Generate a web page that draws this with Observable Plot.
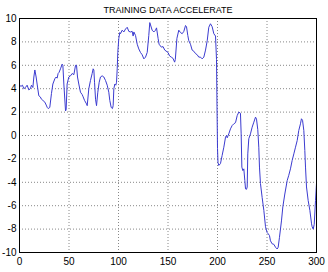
<!DOCTYPE html>
<html>
<head>
<meta charset="utf-8">
<script src="https://cdn.jsdelivr.net/npm/d3@7"></script>
<script src="https://cdn.jsdelivr.net/npm/@observablehq/plot@0.6"></script>
<style>
  html, body { margin: 0; padding: 0; background: #fff; }
</style>
</head>
<body>
<div id="chart"></div>
<script>
const title = "TRAINING DATA ACCELERATE";
const xTicks = [0, 50, 100, 150, 200, 250, 300];
const yTicks = [-10, -8, -6, -4, -2, 0, 2, 4, 6, 8, 10];

const xs = [
  0, 1.5, 3, 4.4, 6, 7.7, 9.4, 11, 12.1, 13.5, 14.5, 15.5, 16.8, 17.8, 19.5, 21, 22.2, 23.6, 25.6, 27,
  28, 29, 30.6, 32.3, 33.7, 35.7, 37, 38, 39, 40, 41.4, 43.1, 43.8, 44.8, 46.5, 47.1, 48.1, 49.8, 51.5, 53.2,
  54.9, 56.6, 57.6, 58.6, 59.9, 61.6, 63.3, 64.3, 65.7, 67.7, 68.4, 70, 71.7, 73.4, 74.4, 75.1, 75.8, 76.8, 77.8, 79.1,
  80.5, 81.8, 83.5, 85.2, 86.9, 88.6, 90.2, 91.2, 92.6, 93.9, 94.6, 95.3, 96.3, 97.3, 98, 98.7, 99.3, 100.3, 101.3, 102,
  103.7, 105.4, 107.1, 108.8, 110.4, 112.1, 113.8, 114.8, 115.5, 117.2, 118.9, 120.5, 122.2, 123.9, 125.6, 127.3, 129, 130.6, 131.6, 134,
  135.7, 137.4, 138.4, 140, 141, 143.3, 145, 146.7, 150, 151.6, 153.3, 155, 156.7, 157.4, 159, 160.9, 162.6, 164.3, 166, 167.7,
  168.7, 170, 171, 172.7, 174.4, 176.1, 177.8, 179.5, 181.1, 182.8, 184.5, 186.2, 187.9, 189.6, 191.2, 192.9, 194.6, 196.3, 198, 199,
  199.5, 200, 200.5, 201.3, 203, 204.7, 206.4, 208.1, 209.1, 209.8, 211.4, 213.1, 214.8, 216.5, 218.2, 219.9, 221.5, 223.2, 223.9, 224.6,
  225.6, 226.6, 227.6, 228.3, 229.3, 230, 230.6, 231.6, 233.3, 235, 236.7, 238.4, 239.4, 240.7, 241.7, 242.4, 243.4, 245.1, 246.8, 248.5,
  250.2, 251.2, 252.5, 253.5, 255.2, 256.9, 258.6, 260.3, 261.3, 262.6, 264.6, 266, 268, 270.4, 272, 273.7, 275.4, 277.1, 278.8, 280.5,
  282.1, 283.8, 284.8, 285.9, 287.2, 288.2, 288.9, 289.9, 291.6, 293.3, 295, 295.6, 296.7, 297.7, 299, 300
];
const ys = [
  4.3, 4.2, 4.3, 4.0, 4.1, 4.3, 3.9, 4.0, 4.3, 4.1, 5.0, 5.6, 5.0, 4.4, 3.4, 3.3, 3.1, 3.0, 2.85, 2.6,
  2.4, 2.3, 2.4, 3.6, 4.4, 4.85, 5.0, 4.9, 5.3, 5.4, 5.7, 6.1, 6.0, 4.4, 2.1, 2.2, 4.4, 5.0, 5.1, 5.3,
  5.2, 6.0, 6.0, 5.0, 4.4, 3.7, 3.5, 3.3, 3.0, 2.7, 2.55, 4.0, 4.7, 5.3, 5.7, 5.6, 4.55, 3.1, 2.55, 3.7,
  4.55, 5.0, 5.1, 5.0, 4.7, 4.3, 3.7, 3.0, 2.4, 2.3, 2.55, 4.0, 4.4, 4.3, 4.55, 5.7, 7.1, 8.3, 8.8, 8.7,
  9.0, 8.85, 9.1, 9.25, 8.9, 8.85, 8.9, 8.5, 8.85, 8.55, 7.8, 7.4, 7.1, 6.9, 6.55, 6.7, 7.1, 8.55, 9.65, 9.0,
  8.85, 9.0, 9.2, 8.3, 7.8, 7.55, 7.6, 7.3, 7.1, 6.8, 6.7, 6.6, 6.27, 6.5, 8.3, 9.0, 8.8, 8.7, 8.9, 9.4,
  9.3, 8.55, 8.1, 7.8, 7.3, 7.2, 7.0, 6.9, 6.7, 6.7, 6.55, 6.7, 7.3, 8.1, 9.25, 9.55, 9.3, 8.7, 8.5, 6.5,
  2.5, -1.1, -2.3, -2.56, -2.4, -1.7, -1.0, -0.14, 0, -0.2, 0.14, 0.57, 0.85, 1.0, 1.1, 1.7, 2.0, 1.9, 0.14, -2.7,
  -3.0, -2.85, -3.85, -4.56, -4.6, -4.4, -1.57, -0.28, 0.14, 0.71, 1.14, 1.57, 1.4, 0.5, -1.0, -2.7, -4.1, -5.3, -6.4, -7.8,
  -8.3, -8.4, -8.55, -9.0, -9.26, -9.3, -9.55, -9.7, -9.55, -8.7, -7.3, -6.1, -5.0, -3.85, -3.4, -2.85, -2.14, -1.57, -1.0, -0.43,
  0.43, 1.0, 1.43, 1.3, 0.43, -1.28, -2.7, -4.4, -5.56, -6.4, -7.55, -7.8, -8.0, -7.6, -5.56, -4.1
];

const data = xs.map((x, i) => ({x, y: ys[i]}));

const chart = Plot.plot({
  width: 328,
  height: 272,
  marginLeft: 19,
  marginRight: 12,
  marginTop: 18,
  marginBottom: 20,
  style: {fontFamily: "'Liberation Sans', Arial, sans-serif", fontSize: "10px", color: "#000", background: "#fff"},
  x: {domain: [0, 300], label: null},
  y: {domain: [-10, 10], label: null},
  marks: [
    Plot.gridX(xTicks, {stroke: "#888", strokeOpacity: 1, strokeDasharray: "1,2"}),
    Plot.gridY(yTicks, {stroke: "#888", strokeOpacity: 1, strokeDasharray: "1,2"}),
    Plot.line(data, {x: "x", y: "y", stroke: "#3b3bd0", strokeWidth: 1}),
    Plot.frame({stroke: "#000"}),
    Plot.axisX(xTicks, {tickSize: 0, tickPadding: 5, tickFormat: d => String(d), label: null}),
    Plot.axisY(yTicks, {tickSize: 0, tickPadding: 3, tickFormat: d => String(d), label: null}),
    Plot.text([title], {frameAnchor: "top", dy: -6, lineAnchor: "bottom", fontSize: 9, text: d => d, fill: "#000"})
  ]
});
document.getElementById("chart").appendChild(chart);
</script>
</body>
</html>
